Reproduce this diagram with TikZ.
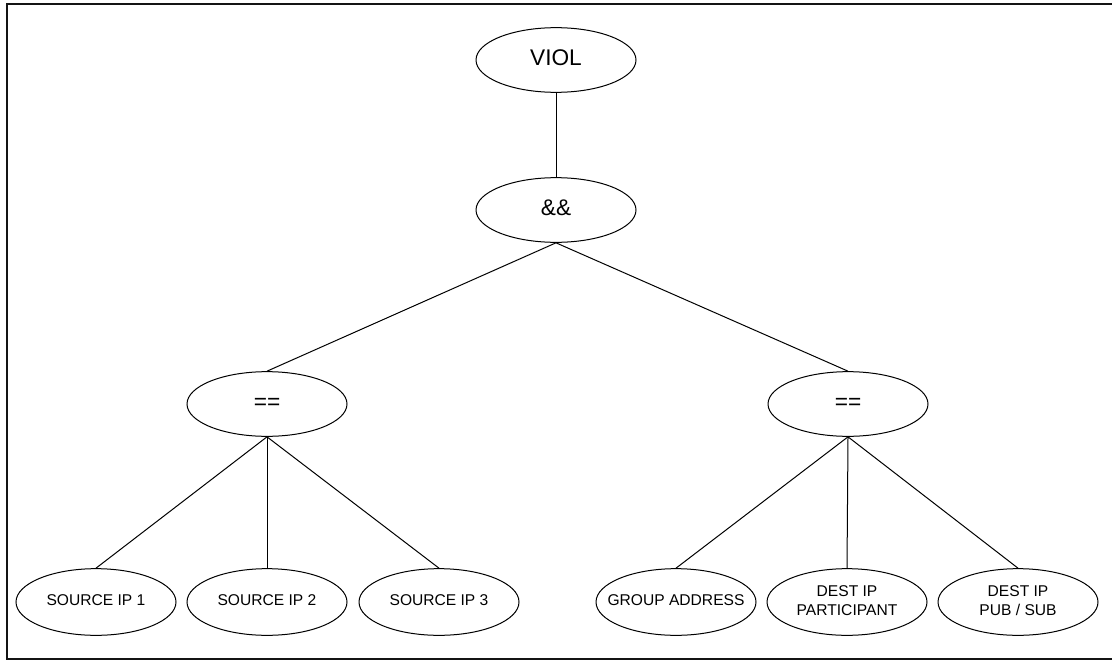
\documentclass[tikz,border=0pt]{standalone}
\usepackage{fontspec}
\setmainfont{Liberation Sans}
\usetikzlibrary{shapes.geometric}

\newcommand{\ovaltext}[1]{\makebox[0pt]{\begin{tabular}{@{}c@{}}#1\end{tabular}}}

\tikzset{every picture/.style={line width=0.75pt}}
\tikzset{
  oval/.style={draw, ellipse, inner sep=0pt, minimum width=120pt, minimum height=49pt},
  bigoval/.style={oval, minimum height=48.5pt, font=\fontsize{17}{20}\selectfont},
  leafoval/.style={oval, minimum height=50pt, font=\fontsize{11.7}{14}\selectfont},
  edge/.style={draw, line width=0.75pt}
}

\begin{document}
\begin{tikzpicture}[x=0.75pt,y=0.75pt,yscale=-1,xscale=1]
\useasboundingbox (0,0) rectangle (1112,660);

%Frame
\coordinate (ftr) at (1114,4);
\coordinate (ftl) at (7,4);
\coordinate (fbl) at (7,659);
\coordinate (fbr) at (1114,659);
\draw [line width=1.5pt, color={rgb, 255:red, 20; green, 20; blue, 20 }] (ftr) -- (ftl) -- (fbl) -- (fbr) ;

%Shape: Ellipse [root]
\node [bigoval] (viol) at (556,60) {\ovaltext{VIOL}};
%Shape: Ellipse [and]
\node [bigoval] (and) at (556,210) {\ovaltext{\&\&}};
%Shape: Ellipse [left eq]
\node [bigoval] (eqleft) at (267,404) {\ovaltext{==}};
%Shape: Ellipse [right eq]
\node [bigoval] (eqright) at (848,404) {\ovaltext{==}};

%Shape: Ellipse [leaves]
\node [leafoval] (srcone) at (96,602) {\ovaltext{SOURCE IP 1}};
\node [leafoval] (srctwo) at (267,602) {\ovaltext{SOURCE IP 2}};
\node [leafoval] (srcthree) at (439,602) {\ovaltext{SOURCE IP 3}};
\node [leafoval] (grpaddr) at (676,602) {\ovaltext{GROUP ADDRESS}};
\node [leafoval] (destpart) at (847,602) {\ovaltext{DEST IP\\PARTICIPANT}};
\node [leafoval] (destpub) at (1018,602) {\ovaltext{DEST IP\\PUB / SUB}};

%Straight Lines
\draw [edge] (viol.south) -- (and.north) ;
\draw [edge] (and.south) -- (eqleft.north) ;
\draw [edge] (and.south) -- (eqright.north) ;
\foreach \leaf in {srcone,srctwo,srcthree}
  \draw [edge] (eqleft.south) -- (\leaf.north) ;
\foreach \leaf in {grpaddr,destpart,destpub}
  \draw [edge] (eqright.south) -- (\leaf.north) ;

\end{tikzpicture}
\end{document}
